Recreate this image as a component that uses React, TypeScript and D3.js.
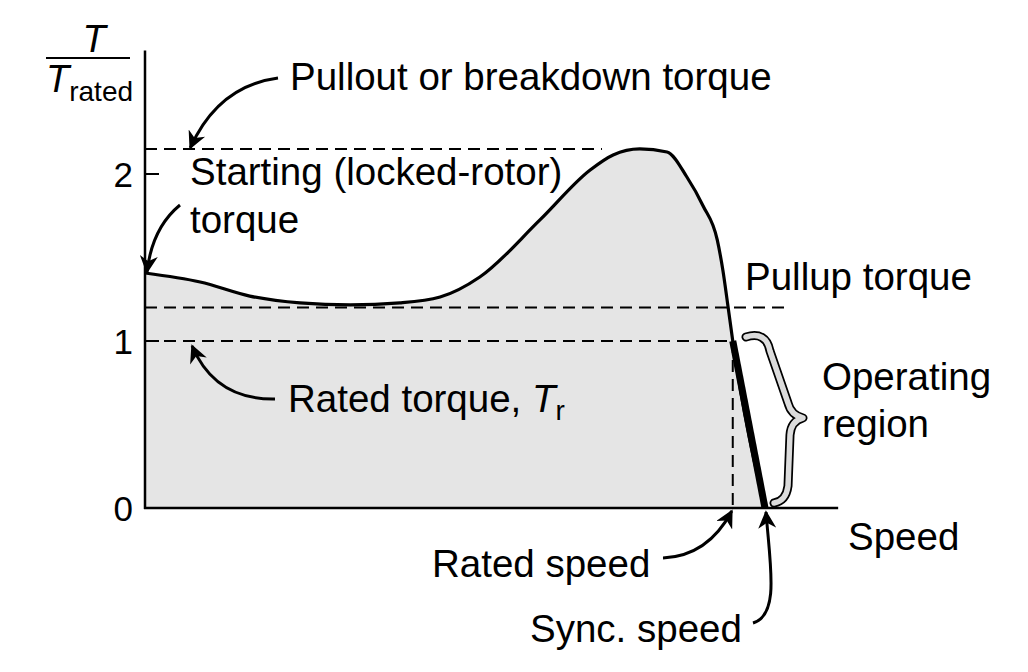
import * as d3 from 'd3'

// torque-speed curve (speed as fraction of sync speed)
const speed = [0, 0.089, 0.169, 0.25, 0.331, 0.411, 0.476, 0.54, 0.637, 0.718, 0.755, 0.798, 0.842, 0.874, 0.9, 0.923, 0.932, 0.94, 0.948, 1]
const torque = [1.407, 1.353, 1.269, 1.228, 1.216, 1.228, 1.263, 1.383, 1.725, 2.024, 2.114, 2.15, 2.132, 1.982, 1.81, 1.605, 1.425, 1.216, 1.0, 0]

const yTicks = [0, 1, 2]
const pulloutTorque = 2.15
const pullupTorque = 1.2
const ratedTorque = 1
const ratedSpeed = 0.948
const syncSpeed = 1

const FONT = '"Liberation Sans", Arial, Helvetica, sans-serif'

export default function App() {
  const x = d3.scaleLinear().domain([0, 1]).range([145, 765])
  const y = d3.scaleLinear().domain([0, 1]).range([508, 341])

  const pts = speed.map((s, i) => ({ s, t: torque[i] }))
  const line = d3
    .line<{ s: number; t: number }>()
    .x((d) => x(d.s))
    .y((d) => y(d.t))
    .curve(d3.curveMonotoneX)
  const area = d3
    .area<{ s: number; t: number }>()
    .x((d) => x(d.s))
    .y0(y(0))
    .y1((d) => y(d.t))
    .curve(d3.curveMonotoneX)

  const operating = pts.filter((d) => d.s >= ratedSpeed)
  const straight = d3
    .line<{ s: number; t: number }>()
    .x((d) => x(d.s))
    .y((d) => y(d.t))

  const dash = '12 7'
  const t0 = torque[0]

  // curly brace beside the operating region
  const bx = x(syncSpeed) - 19
  const bTop = y(ratedTorque) - 7
  const bBot = y(0) - 6
  const bMid = (bTop + bBot) / 2
  const brace = `M${bx},${bTop + 3} Q${bx + 20},${bTop - 3} ${bx + 24},${bTop + 17} L${bx + 42},${bMid - 15} Q${bx + 45},${bMid - 3} ${bx + 57},${bMid} Q${bx + 45},${bMid + 3} ${bx + 44},${bMid + 17} L${bx + 42},${bBot - 16} Q${bx + 40},${bBot - 1} ${bx + 28},${bBot + 1}`

  return (
    <svg
      width={1028}
      height={672}
      style={{ position: 'absolute', left: 0, top: 0, background: '#fff' }}
      fontFamily={FONT}
    >
      <defs>
        <marker
          id="head"
          viewBox="0 0 10 10"
          refX={9}
          refY={5}
          markerWidth={24}
          markerHeight={18}
          markerUnits="userSpaceOnUse"
          orient="auto"
        >
          <path d="M0,0 L10,5 L0,10 L3,5 z" fill="#000" />
        </marker>
      </defs>

      {/* filled region under curve */}
      <path d={area(pts) ?? ''} fill="#e5e5e5" />

      {/* reference dashed lines */}
      <line x1={x(0)} x2={x(0.737)} y1={y(pulloutTorque)} y2={y(pulloutTorque)} stroke="#000" strokeWidth={2} strokeDasharray={dash} />
      <line x1={x(0)} x2={x(1.035)} y1={y(pullupTorque)} y2={y(pullupTorque)} stroke="#000" strokeWidth={2} strokeDasharray={dash} />
      <line x1={x(0)} x2={x(ratedSpeed)} y1={y(ratedTorque)} y2={y(ratedTorque)} stroke="#000" strokeWidth={2} strokeDasharray={dash} />
      <line x1={x(ratedSpeed)} x2={x(ratedSpeed)} y1={y(ratedTorque)} y2={y(0)} stroke="#000" strokeWidth={2} strokeDasharray={dash} />

      {/* curve */}
      <path d={line(pts) ?? ''} fill="none" stroke="#000" strokeWidth={3.2} strokeLinejoin="round" />
      <path d={straight(operating) ?? ''} fill="none" stroke="#000" strokeWidth={7} />

      {/* axes */}
      <line x1={x(0)} x2={x(0)} y1={y(0) + 1} y2={y(2.74)} stroke="#000" strokeWidth={2.5} />
      <line x1={x(0) - 1} x2={x(1.118)} y1={y(0)} y2={y(0)} stroke="#000" strokeWidth={2.5} />
      {yTicks.map((t) => (
        <g key={t}>
          {t > 0 && <line x1={x(0)} x2={x(0) + 14} y1={y(t)} y2={y(t)} stroke="#000" strokeWidth={2} />}
          <text x={x(0) - 12} y={y(t) + 13} fontSize={35} textAnchor="end">
            {t}
          </text>
        </g>
      ))}

      {/* y label T / T_rated */}
      <text x={94} y={52} fontSize={38} fontStyle="italic" textAnchor="middle">T</text>
      <line x1={46} x2={130} y1={58} y2={58} stroke="#000" strokeWidth={2} />
      <text x={46} y={92} fontSize={38}>
        <tspan fontStyle="italic">T</tspan>
        <tspan fontSize={28} dy={9}>rated</tspan>
      </text>

      {/* operating region brace */}
      <path d={brace} fill="none" stroke="#000" strokeWidth={9} strokeLinejoin="round" strokeLinecap="round" />
      <path d={brace} fill="none" stroke="#dcdcdc" strokeWidth={5.5} strokeLinejoin="round" strokeLinecap="round" />

      {/* annotation arrows */}
      <g fill="none" stroke="#000" strokeWidth={3} markerEnd="url(#head)">
        <path d={`M278,78 Q218,86 ${x(0.073)},${y(pulloutTorque) - 1}`} />
        <path d={`M180,205 Q152,228 ${x(0) + 2},${y(t0) - 1}`} />
        <path d={`M275,399 Q215,400 ${x(0.076)},${y(ratedTorque) + 5}`} />
        <path d={`M663,558 Q708,556 ${x(ratedSpeed) - 1},${y(0) + 3}`} />
        <path d={`M753,623 C780,615 770,565 ${x(syncSpeed) + 1},${y(0) + 4}`} />
      </g>

      {/* labels */}
      <g fontSize={38.5} fill="#000">
        <text x={290} y={90}>Pullout or breakdown torque</text>
        <text x={190} y={185}>Starting (locked-rotor)</text>
        <text x={190} y={233}>torque</text>
        <text x={745} y={290}>Pullup torque</text>
        <text x={822} y={390}>Operating</text>
        <text x={822} y={437}>region</text>
        <text x={288} y={412}>
          Rated torque, <tspan fontStyle="italic">T</tspan>
          <tspan fontSize={28} dy={8}>r</tspan>
        </text>
        <text x={848} y={550}>Speed</text>
        <text x={432} y={577}>Rated speed</text>
        <text x={530} y={642}>Sync. speed</text>
      </g>
    </svg>
  )
}
